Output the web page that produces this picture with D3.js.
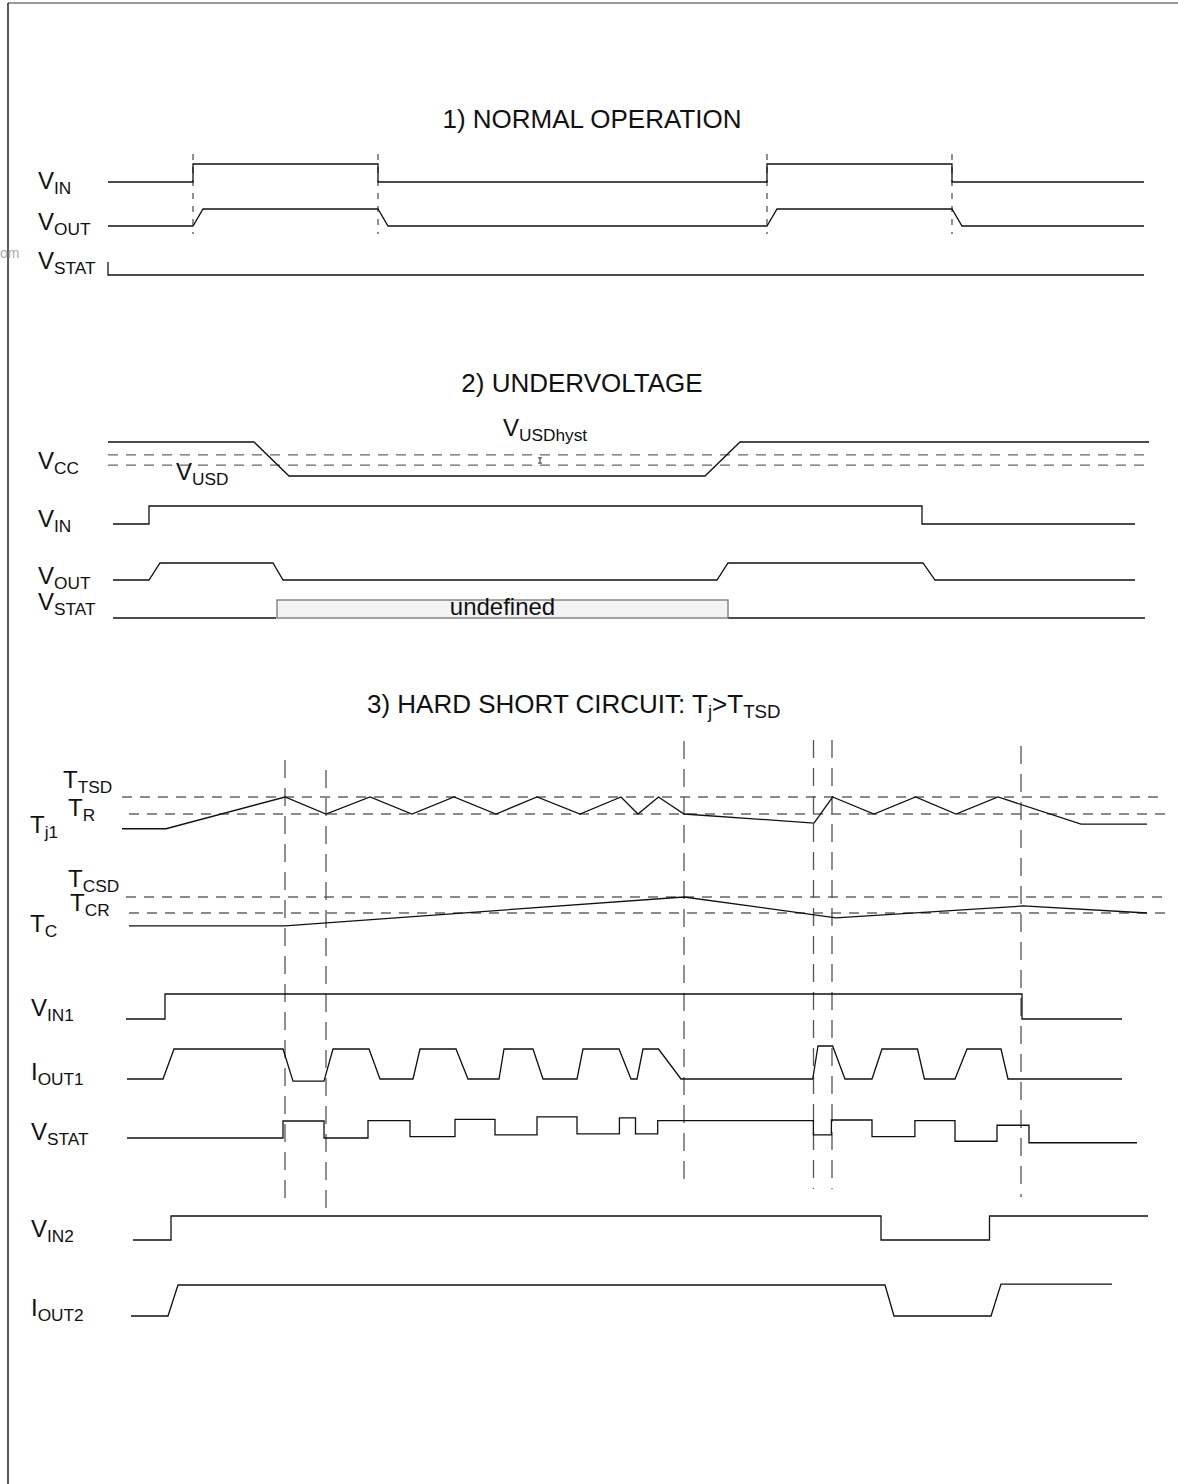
<!DOCTYPE html>
<html>
<head>
<meta charset="utf-8">
<script src="https://cdn.jsdelivr.net/npm/d3@7"></script>
<style>
  body { margin: 0; background: #fff; }
  text { font-family: "Liberation Sans", Arial, sans-serif; fill: #111; }
</style>
</head>
<body>
<svg width="1178" height="1484"></svg>
<script>
// time axis is in arbitrary units, levels are 0 = low / 1 = high unless noted

// 1) normal operation
const s1Vin = [[8,0],[93,1],[278,0],[667,1],[852,0],[1044,0]];
const s1Vout = [[8,0],[93,0],[103,1],[278,1],[288,0],[667,0],[677,1],[852,1],[862,0],[1044,0]];
const s1Vstat = [[8,1],[8,0],[1044,0]];
const s1Marks = [93, 278, 667, 852];

// 2) undervoltage
const s2Vcc = [[8,1],[154,1],[189,0],[605,0],[640,1],[1049,1]];
const s2Thresh = [0.32, 0.62];          // V_USD, V_USD + hyst
const s2Vin = [[13,0],[49,1],[822,0],[1035,0]];
const s2Vout = [[13,0],[49,0],[60,1],[173,1],[183,0],[617,0],[628,1],[823,1],[835,0],[1035,0]];
const s2Stat = [[[13,0],[176,0]], [[628,0],[1045,0]]];
const s2Undef = [177, 628];

// 3) hard short circuit, temperatures in degC
const tjLimits = [175, 160];            // T_TSD, T_R
const tcLimits = [120, 110];            // T_CSD, T_CR
const s3Tj = [[22,147],[66,147],[185,175],[226,160],[270,175],[312,160],[354,175],[396,160],[437,175],
  [480,160],[521,175],[538,160],[558.5,175],[584,160],[714,152],[732.6,175],[774,160],[815.6,175],
  [856,160],[898,175],[981,151],[1047,151]];
const s3Tc = [[29,102],[185,102],[584,120],[736,107],[923,114.4],[1047,110]];
const s3Vin1 = [[26,0],[65,1],[922,0],[1022,0]];
const s3Iout1 = [[27,0],[63,0],[74,1],[183,1],[193,-0.07],[224,-0.07],[233,1],[269,1],[280,0],[313,0],
  [320,1],[356,1],[368,0],[399,0],[404,1],[433,1],[443,0],[477,0],[483,1],[519,1],[531,0],[537,0],
  [543,1],[558.5,1],[581,0],[712.7,0],[718,1.1],[732.6,1.1],[745,0],[772,0],[782,1],[817.5,1],
  [824.4,0],[855,0],[867,1],[901,1],[908,0],[1022,0]];
const s3Vstat = [[27,0],[183,1],[224,0],[268,1.02],[310,0.08],[355,1.1],[395,0.18],[437,1.24],[477,0.24],
  [519.4,1.18],[535.5,0.24],[557.7,1.02],[713.4,0.18],[731.4,1.06],[772,0.08],[814.9,1.02],
  [855,-0.19],[897,0.75],[929,-0.28],[1037,-0.28]];
const s3Vin2 = [[33,0],[71,1],[781,0],[889.5,1],[1048,1]];
const s3Iout2 = [[31,0],[68,0],[78,1],[785,1],[794,0],[891,0],[901,1.03],[1012,1.03]];
const s3Marks = [185, 226, 584, 713.5, 732, 921];

const svg = d3.select("svg");
const x = d3.scaleLinear().domain([0, 1100]).range([100, 1200]);

// frame
svg.append("line").attr("x1", 8).attr("y1", 3).attr("x2", 1178).attr("y2", 3)
  .attr("stroke", "#777").attr("stroke-width", 1.5);
svg.append("line").attr("x1", 8).attr("y1", 3).attr("x2", 8).attr("y2", 1484)
  .attr("stroke", "#222").attr("stroke-width", 1.5);
svg.append("text").attr("x", 0).attr("y", 258).attr("font-size", 14).style("fill", "#aaa").text("om");

function label(px, py, parts, size) {
  // parts: [main, sub, main, sub, ...]
  const t = svg.append("text").attr("x", px).attr("y", py).attr("font-size", size || 22);
  parts.forEach(function(p, i) {
    if (!p) return;
    const s = t.append("tspan").text(p);
    if (i % 2 == 1) s.attr("font-size", (size || 22) * 0.72).attr("dy", 5);
    else if (i > 0) s.attr("dy", -5);
  });
  return t;
}

function wave(data, low, high, step) {
  const y = d3.scaleLinear().domain([0, 1]).range([low, high]);
  const line = d3.line().x(d => x(d[0])).y(d => y(d[1]))
    .curve(step ? d3.curveStepAfter : d3.curveLinear);
  svg.append("path").attr("d", line(data)).attr("fill", "none")
    .attr("stroke", "#111").attr("stroke-width", 1.3);
  return y;
}

function hDash(y, t0, t1) {
  svg.append("line").attr("x1", x(t0)).attr("x2", x(t1)).attr("y1", y).attr("y2", y)
    .attr("stroke", "#666").attr("stroke-width", 1.3).attr("stroke-dasharray", "10,8");
}

function vMarks(ts, y1, y2, dash) {
  svg.append("g").selectAll("line").data(ts).enter().append("line")
    .attr("x1", d => x(d)).attr("x2", d => x(d)).attr("y1", y1).attr("y2", y2)
    .attr("stroke", "#555").attr("stroke-width", 1.3).attr("stroke-dasharray", dash);
}

// ---- 1) NORMAL OPERATION
svg.append("text").attr("x", 592).attr("y", 128).attr("text-anchor", "middle")
  .attr("font-size", 26).text("1) NORMAL OPERATION");
vMarks(s1Marks, 154, 234, "6,7");
wave(s1Vin, 182, 164, true);
wave(s1Vout, 226, 209);
wave(s1Vstat, 275, 262);
label(38, 189, ["V", "IN"], 24);
label(38, 230, ["V", "OUT"], 24);
label(38, 269, ["V", "STAT"], 24);

// ---- 2) UNDERVOLTAGE
svg.append("text").attr("x", 582).attr("y", 392).attr("text-anchor", "middle")
  .attr("font-size", 26).text("2) UNDERVOLTAGE");
const yVcc = d3.scaleLinear().domain([0, 1]).range([476, 442]);
s2Thresh.forEach(v => hDash(yVcc(v), 8, 1049));
wave(s2Vcc, 476, 442);
// hysteresis marker
const hx = x(440);
svg.append("path").attr("d", "M" + (hx - 2) + "," + (yVcc(s2Thresh[1]) + 3) + "h4M" + hx + "," + (yVcc(s2Thresh[1]) + 3) +
  "V" + (yVcc(s2Thresh[0]) - 2) + "M" + (hx - 2) + "," + (yVcc(s2Thresh[0]) - 2) + "h4")
  .attr("stroke", "#333").attr("stroke-width", 1);
wave(s2Vin, 524, 506, true);
wave(s2Vout, 580, 563);
s2Stat.forEach(s => wave(s, 618, 600));
svg.append("rect").attr("x", x(s2Undef[0])).attr("y", 600)
  .attr("width", x(s2Undef[1]) - x(s2Undef[0])).attr("height", 18)
  .attr("fill", "#f3f3f3").attr("stroke", "#777").attr("stroke-width", 1.3);
svg.append("text").attr("x", (x(s2Undef[0]) + x(s2Undef[1])) / 2).attr("y", 615)
  .attr("text-anchor", "middle").attr("font-size", 24).text("undefined");
label(38, 469, ["V", "CC"], 24);
label(503, 436, ["V", "USDhyst"], 24);
label(176, 480, ["V", "USD"], 24);
label(38, 527, ["V", "IN"], 24);
label(38, 584, ["V", "OUT"], 24);
label(38, 610, ["V", "STAT"], 24);

// ---- 3) HARD SHORT CIRCUIT
label(367, 713, ["3) HARD SHORT CIRCUIT: T", "j", ">T", "TSD"], 26);
const yTj = d3.scaleLinear().domain([160, 175]).range([814, 797]);
const yTc = d3.scaleLinear().domain([110, 120]).range([913, 897]);
hDash(yTj(tjLimits[0]), 22, 1066);
hDash(yTj(tjLimits[1]), 29, 1066);
hDash(yTc(tcLimits[0]), 26, 1066);
hDash(yTc(tcLimits[1]), 29, 1066);
const marksY = [[760,1202],[770,1212],[741,1180],[740,1189],[740,1189],[746,1197]];
s3Marks.forEach((t, i) => vMarks([t], marksY[i][0], marksY[i][1], "18,10"));
svg.append("path").attr("d", d3.line().x(d => x(d[0])).y(d => yTj(d[1]))(s3Tj))
  .attr("fill", "none").attr("stroke", "#111").attr("stroke-width", 1.3);
svg.append("path").attr("d", d3.line().x(d => x(d[0])).y(d => yTc(d[1]))(s3Tc))
  .attr("fill", "none").attr("stroke", "#111").attr("stroke-width", 1.3);
wave(s3Vin1, 1019, 994, true);
wave(s3Iout1, 1079, 1049);
wave(s3Vstat, 1138, 1121, true);
wave(s3Vin2, 1240, 1216, true);
wave(s3Iout2, 1316, 1285);

label(63, 788, ["T", "TSD"], 24);
label(68, 816, ["T", "R"], 24);
label(30, 833, ["T", "j1"], 24);
label(68, 887, ["T", "CSD"], 24);
label(70, 911, ["T", "CR"], 24);
label(30, 932, ["T", "C"], 24);
label(31, 1016, ["V", "IN1"], 24);
label(31, 1080, ["I", "OUT1"], 24);
label(31, 1140, ["V", "STAT"], 24);
label(31, 1237, ["V", "IN2"], 24);
label(31, 1316, ["I", "OUT2"], 24);
</script>
</body>
</html>
